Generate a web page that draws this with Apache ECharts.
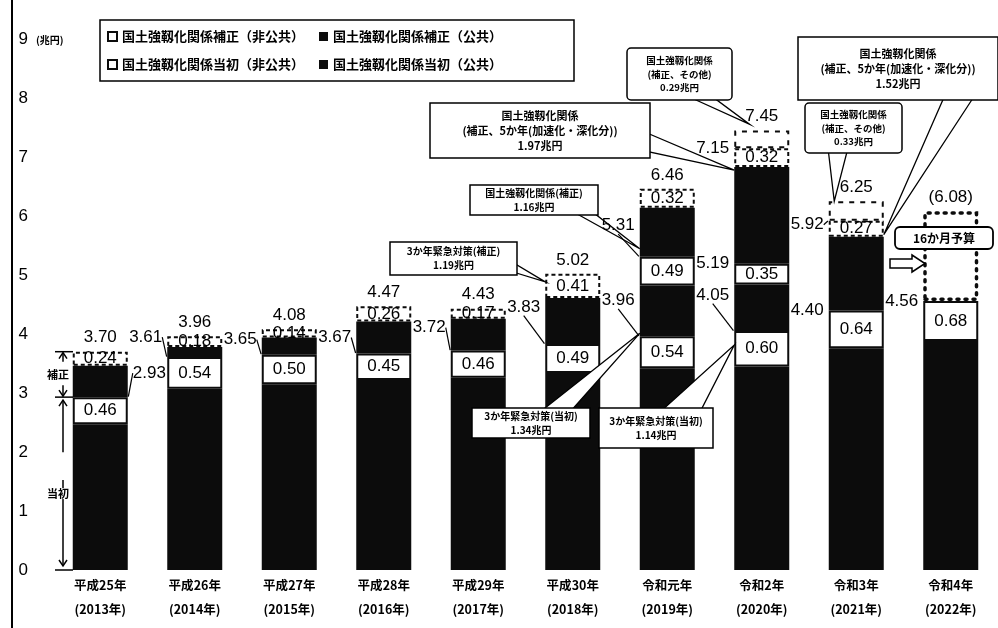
<!DOCTYPE html>
<html><head><meta charset="utf-8">
<script src="https://cdn.jsdelivr.net/npm/echarts@6/dist/echarts.min.js"></script>
<style>html,body{margin:0;padding:0;background:#fff}#c{width:998px;height:628px}</style>
</head><body><div id="c"></div>
<script>
// ---- data ----
const categories = ['平成25年\n(2013年)','平成26年\n(2014年)','平成27年\n(2015年)','平成28年\n(2016年)','平成29年\n(2017年)','平成30年\n(2018年)','令和元年\n(2019年)','令和2年\n(2020年)','令和3年\n(2021年)','令和4年\n(2022年)'];
const initialPublic      = [2.47, 3.07, 3.15, 3.22, 3.26, 3.34, 3.42, 3.45, 3.76, 3.88];
const initialNonPublic   = [0.46, 0.54, 0.50, 0.45, 0.46, 0.49, 0.54, 0.60, 0.64, 0.68];
const emergencyPublic    = [null, null, null, null, null, null, 0.86, 0.79, null, null];
const emergencyNonPublic = [null, null, null, null, null, null, 0.49, 0.35, null, null];
const supplPublic        = [0.53, 0.17, 0.29, 0.54, 0.54, 0.78, 0.83, 1.64, 1.25, null];
const supplNonPublic     = [0.24, 0.18, 0.14, 0.26, 0.17, 0.41, 0.32, 0.32, 0.27, null];
const supplOther         = [null, null, null, null, null, null, null, 0.30, 0.33, null];
const plannedSuppl       = [null, null, null, null, null, null, null, null, null, 1.52];
const initialTotals      = [2.93, 3.61, 3.65, 3.67, 3.72, 3.83, 3.96, 4.05, 4.40, 4.56];
const withEmergency      = [null, null, null, null, null, null, 5.31, 5.19, null, null];
const fiveYearTop        = [null, null, null, null, null, null, null, 7.15, 5.92, null];
const grandTotals        = [3.70, 3.96, 4.08, 4.47, 4.43, 5.02, 6.46, 7.45, 6.25, 6.08];
const yTicks = [0,1,2,3,4,5,6,7,8,9];
const seriesNames = ['国土強靱化関係補正（非公共）','国土強靱化関係補正（公共）','国土強靱化関係当初（非公共）','国土強靱化関係当初（公共）'];
const calloutTexts = [
  '3か年緊急対策(補正)\n1.19兆円',
  '国土強靱化関係(補正)\n1.16兆円',
  '国土強靱化関係\n(補正、5か年(加速化・深化分))\n1.97兆円',
  '国土強靱化関係\n(補正、その他)\n0.29兆円',
  '国土強靱化関係\n(補正、5か年(加速化・深化分))\n1.52兆円',
  '国土強靱化関係\n(補正、その他)\n0.33兆円',
  '3か年緊急対策(当初)\n1.34兆円',
  '3か年緊急対策(当初)\n1.14兆円'
];

// ---- styles ----
const NUM_FONT = '"Liberation Sans", Arial, sans-serif';
const JP_FONT = '"Noto Sans CJK JP", sans-serif';
const BLACK = '#0c0c0c';
const chart = echarts.init(document.getElementById('c'));

const valLabel = {show:true, position:'inside', color:'#000', fontSize:17, fontFamily:NUM_FONT,
  formatter: p => (p.value == null ? '' : Number(p.value).toFixed(2))};
function bar(name, data, itemStyle, label) {
  return {type:'bar', name, data, stack:'t', barWidth:55, itemStyle, label: label || {show:false},
    emphasis:{disabled:true}, silent:true, animation:false};
}
const solid = {color: BLACK};
const whiteBox = {color:'#fff', borderColor: BLACK, borderWidth: 2};
const dashedBox = {color:'#fff', borderColor: BLACK, borderWidth: 2, borderType:[4,3]};
const openDashed = {color:'rgba(0,0,0,0)', borderColor: BLACK, borderWidth: 2, borderType:[5,6]};
const openDotted = {color:'rgba(0,0,0,0)', borderColor: BLACK, borderWidth: 3.5, borderType:[2,6], borderCap:'round'};
const hiddenSymbol = {color:'rgba(0,0,0,0)', opacity:1};

function sideSeries(values, sides, dys) {
  return {type:'scatter', data: values.map((v,i)=> v==null ? null : {
      value:[i, v], symbolOffset:[sides[i]*28, 0],
      label:{position: sides[i] < 0 ? 'left' : 'right'},
      labelLine:{show: dys[i] !== 0}
    }),
    symbolSize:1, itemStyle:hiddenSymbol, silent:true, animation:false, z:25,
    emphasis:{disabled:true},
    label:{show:true, distance:4, color:'#000', opacity:1, fontSize:17, fontFamily:NUM_FONT,
      formatter: p => p.value[1].toFixed(2)},
    labelLine:{show:true, lineStyle:{color:'#000', width:1.2, opacity:1}},
    labelLayout: p => ({dy: dys[p.dataIndex] || 0})
  };
}
const L = -1, R = 1;

const option = {
  backgroundColor:'#fff',
  animation:false,
  grid:{left:53, right:0, top:39, bottom:58},
  legend:{
    data: seriesNames.map(n => ({name:n, icon:'rect'})),
    left:100, top:20, width:430, itemWidth:9, itemHeight:9, itemGap:15,
    padding:[10,72,10,7], borderColor:'#000', borderWidth:1.5,
    textStyle:{fontSize:13, fontWeight:'bold', color:'#000', fontFamily:JP_FONT},
    selectedMode:false
  },
  xAxis:{type:'category', data:categories, axisLine:{show:false}, axisTick:{show:false},
    axisLabel:{interval:0, margin:3, fontSize:12.5, fontWeight:'bold', lineHeight:24, color:'#000', fontFamily:JP_FONT}},
  yAxis:{type:'value', min:yTicks[0], max:yTicks[yTicks.length-1], interval:1,
    axisLine:{show:false}, axisTick:{show:false}, splitLine:{show:false},
    axisLabel:{margin:25, fontSize:17, color:'#000', fontFamily:NUM_FONT}},
  series:[
    bar(seriesNames[3], initialPublic, solid),
    bar(seriesNames[2], initialNonPublic, whiteBox, valLabel),
    bar(seriesNames[3], emergencyPublic, solid),
    bar(seriesNames[2], emergencyNonPublic, whiteBox, valLabel),
    bar(seriesNames[1], supplPublic, solid),
    bar(seriesNames[0], supplNonPublic, dashedBox, valLabel),
    bar('補正その他', supplOther, openDashed),
    bar('16か月予算', plannedSuppl, openDotted),
    {type:'scatter', data: grandTotals.map((v,i)=>[i,v]), symbolSize:1, itemStyle:hiddenSymbol,
      silent:true, z:25, emphasis:{disabled:true},
      label:{show:true, position:'top', distance:5, color:'#000', opacity:1, fontSize:17, fontFamily:NUM_FONT,
        formatter: p => p.dataIndex === grandTotals.length-1 ? '(' + p.value[1].toFixed(2) + ')' : p.value[1].toFixed(2)}},
    sideSeries(initialTotals, [R,L,L,L,L,L,L,L,L,L], [-24,-20,-15,-16,-23,-37,-36,-36,0,0]),
    sideSeries(withEmergency, [L,L,L,L,L,L,L,L,L,L], [0,0,0,0,0,0,-31,0,0,0]),
    sideSeries(fiveYearTop, [L,L,L,L,L,L,L,L,L,L], [0,0,0,0,0,0,0,0,4,0])
  ]
};
chart.setOption(option);

// ---- annotations (graphic) ----
const yPx = v => chart.convertToPixel({yAxisIndex:0}, v);
const xPx = i => chart.convertToPixel({xAxisIndex:0}, i);
const g = [];
g.push({type:'line', shape:{x1:12, y1:0, x2:12, y2:628}, style:{stroke:'#000', lineWidth:2}, z:10});
g.push({type:'text', style:{text:'(兆円)', x:36, y:40, font:'bold 10px ' + JP_FONT, fill:'#000', verticalAlign:'middle'}, z:10});

function callout(box, text, base, tip, fontSize, r) {
  g.push({type:'polygon', shape:{points:[base[0], tip, base[1]]}, style:{fill:'#fff', stroke:'#000', lineWidth:1.3}, z:20});
  g.push({type:'rect', shape:{x:box[0], y:box[1], width:box[2], height:box[3], r:r||0}, style:{fill:'#fff', stroke:'#000', lineWidth:1.5}, z:21});
  g.push({type:'text', style:{text, x:box[0]+box[2]/2, y:box[1]+box[3]/2, align:'center', verticalAlign:'middle',
    font:'bold ' + fontSize + 'px ' + JP_FONT, lineHeight: fontSize + 4, fill:'#000'}, z:22});
}
const edge = (i, side) => xPx(i) + side*27.5;
callout([390,242,127,33], calloutTexts[0], [[500,268],[512,262]], [edge(5,L), yPx(grandTotals[5]) + 8], 10);
callout([470,185,128,30], calloutTexts[1], [[570,210],[590,210]], [edge(6,L), yPx(withEmergency[6]) - 8], 10);
callout([430,103,220,55], calloutTexts[2], [[640,130],[640,150]], [edge(7,L), yPx(fiveYearTop[7]) + 22], 11);
callout([627,48,105,52], calloutTexts[3], [[685,95],[710,95]], [xPx(7) - 12, yPx(grandTotals[7]) - 6], 9.5, 4);
callout([798,37,200,63], calloutTexts[4], [[945,95],[975,95]], [edge(8,R), yPx(fiveYearTop[8]) + 14], 11);
callout([805,103,97,50], calloutTexts[5], [[828,148],[848,148]], [xPx(8) - 22, yPx(grandTotals[8])], 9.5, 4);
callout([472,408,118,30], calloutTexts[6], [[540,412],[570,412]], [edge(6,L), yPx(initialTotals[6]) - 3], 10);
callout([599,408,114,40], calloutTexts[7], [[660,412],[700,412]], [edge(7,L), yPx(initialTotals[7]) + 14], 10);

g.push({type:'rect', shape:{x:895, y:227, width:98, height:22, r:5}, style:{fill:'#fff', stroke:'#000', lineWidth:1.8}, z:21});
g.push({type:'text', style:{text:'16か月予算', x:944, y:238, align:'center', verticalAlign:'middle', font:'bold 12px ' + JP_FONT, fill:'#000'}, z:22});
g.push({type:'polygon', shape:{points:[[890,259],[912,259],[912,255],[925,263.5],[912,272],[912,268],[890,268]]}, style:{fill:'#fff', stroke:'#000', lineWidth:1.5}, z:21});

const yTop = yPx(grandTotals[0]), yMid = yPx(initialTotals[0]), y0 = yPx(0);
const ax = 63;
[yTop, yMid, y0].forEach(y => g.push({type:'line', shape:{x1:55, y1:y, x2:73, y2:y}, style:{stroke:'#000', lineWidth:1.5}, z:10}));
function arrow(x, yFrom, yTo) {
  g.push({type:'line', shape:{x1:x, y1:yFrom, x2:x, y2:yTo}, style:{stroke:'#000', lineWidth:1.5}, z:10});
  const d = yTo > yFrom ? -1 : 1;
  g.push({type:'polyline', shape:{points:[[x-4, yTo + d*6],[x, yTo],[x+4, yTo + d*6]]}, style:{stroke:'#000', lineWidth:1.5, fill:null}, z:10});
}
arrow(ax, yTop + 10, yTop + 1);
arrow(ax, yMid - 12, yMid - 1);
arrow(ax, yMid + 55, yMid + 3);
arrow(ax, y0 - 90, y0 - 4);
g.push({type:'text', style:{text:'補正', x:58, y:(yTop+yMid)/2, align:'center', verticalAlign:'middle', font:'bold 11px ' + JP_FONT, fill:'#000', backgroundColor:'#fff'}, z:11});
g.push({type:'text', style:{text:'当初', x:58, y:(yMid+y0)/2 + 10, align:'center', verticalAlign:'middle', font:'bold 11px ' + JP_FONT, fill:'#000', backgroundColor:'#fff'}, z:11});

chart.setOption({graphic: g});
</script></body></html>
